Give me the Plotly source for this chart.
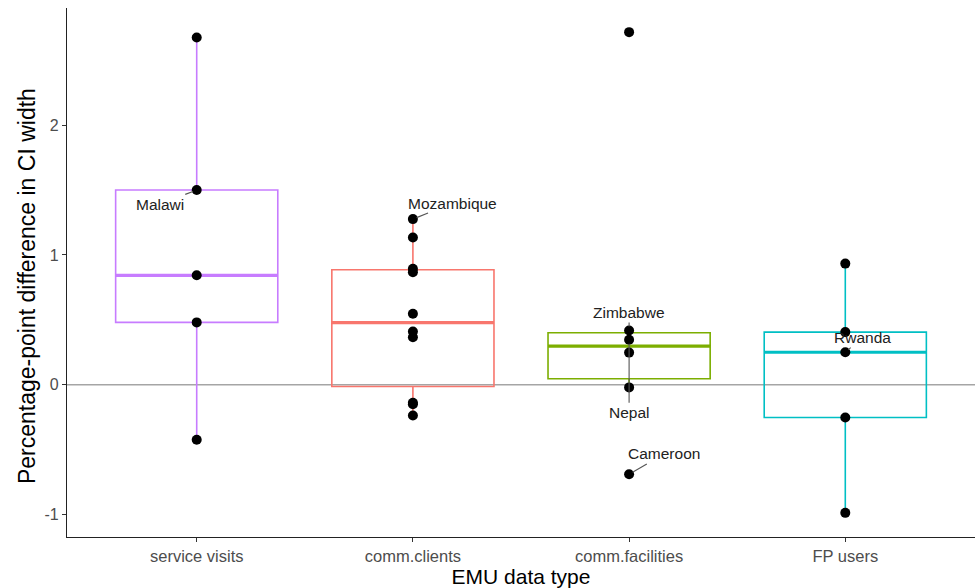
import numpy as np
import plotly.graph_objects as go

categories = ["service visits", "comm.clients", "comm.facilities", "FP users"]
colors = ["#C77CFF", "#F8766D", "#7CAE00", "#00BFC4"]

service_visits = [2.676, 1.50, 0.843, 0.48, -0.425]
comm_clients = [1.276, 1.134, 0.893, 0.866, 0.547, 0.41, 0.365, -0.14, -0.15, -0.238]
comm_facilities = [2.717, 0.418, 0.346, 0.247, -0.021, -0.69]
fp_users = [0.933, 0.405, 0.25, -0.253, -0.988]
series = [service_visits, comm_clients, comm_facilities, fp_users]

# labels: (text, category index, index of point in series, label offset dx, dy in data units)
labels = [
    ("Malawi", 0, 1, -0.171, -0.108),
    ("Mozambique", 1, 0, 0.185, 0.124),
    ("Zimbabwe", 2, 1, 0.0, 0.139),
    ("Nepal", 2, 2, 0.0, -0.563),
    ("Cameroon", 2, 5, 0.162, 0.156),
    ("Rwanda", 3, 2, 0.079, 0.113),
]

yticks = [-1, 0, 1, 2]

FONT = "Liberation Sans, Arial, sans-serif"

fig = go.Figure()

fig.add_shape(type="line", xref="paper", yref="y", x0=0, x1=1, y0=0, y1=0,
              line=dict(color="rgb(165,165,165)", width=1.5), layer="below")

box_w = 0.75
for i, (vals, col) in enumerate(zip(series, colors)):
    v = np.array(vals, dtype=float)
    q1, med, q3 = np.percentile(v, [25, 50, 75])
    iqr = q3 - q1
    lo = v[v >= q1 - 1.5 * iqr].min()
    hi = v[v <= q3 + 1.5 * iqr].max()
    fig.add_trace(go.Box(x=[i], q1=[q1], median=[med], q3=[q3],
                         lowerfence=[lo], upperfence=[hi], width=box_w,
                         whiskerwidth=0, line=dict(color=col, width=1.6),
                         fillcolor="rgba(255,255,255,0)", boxpoints=False,
                         hoverinfo="skip", showlegend=False))
    fig.add_trace(go.Scatter(x=[i - box_w / 2, i + box_w / 2], y=[med, med],
                             mode="lines", line=dict(color=col, width=3.2),
                             hoverinfo="skip", showlegend=False))

for i, vals in enumerate(series):
    fig.add_trace(go.Scatter(x=[i] * len(vals), y=vals, mode="markers",
                             marker=dict(color="black", size=10),
                             hoverinfo="skip", showlegend=False))

for text, ci, pi, dx, dy in labels:
    py = series[ci][pi]
    fig.add_annotation(x=ci, y=py, ax=ci + dx, ay=py + dy, axref="x", ayref="y",
                       text=text, showarrow=True, arrowhead=0, arrowwidth=1.1,
                       arrowcolor="#555555", standoff=4,
                       font=dict(family=FONT, size=15.5, color="#222222"))

# y-axis title as a rotated annotation (placed slightly below panel centre, as in the reference)
fig.add_annotation(text="Percentage-point difference in CI width", textangle=-90,
                   xref="paper", yref="paper", x=-0.044, y=0.4745,
                   xanchor="center", yanchor="middle", showarrow=False,
                   font=dict(family=FONT, size=23, color="black"))

fig.update_layout(
    width=977, height=588,
    margin=dict(l=67, r=2, t=8, b=51),
    plot_bgcolor="white", paper_bgcolor="white",
    font=dict(family=FONT, color="black"),
    xaxis=dict(range=[-0.6, 3.6], tickmode="array",
               tickvals=list(range(len(categories))), ticktext=categories,
               showgrid=False, zeroline=False, showline=True,
               linecolor="#222222", linewidth=1.3, ticks="outside", ticklen=4,
               tickcolor="#333333", tickwidth=1.1,
               tickfont=dict(size=16.5, color="#4D4D4D"),
               title=dict(text="EMU data type", font=dict(size=21),
                          standoff=1)),
    yaxis=dict(range=[-1.174, 2.903], tickmode="array", tickvals=yticks,
               ticktext=[str(t) for t in yticks],
               showgrid=False, zeroline=False, showline=True,
               linecolor="#222222", linewidth=1.3, ticks="outside", ticklen=4,
               tickcolor="#333333", tickwidth=1.1,
               tickfont=dict(size=16, color="#4D4D4D")),
)

fig.write_html("out.html")
